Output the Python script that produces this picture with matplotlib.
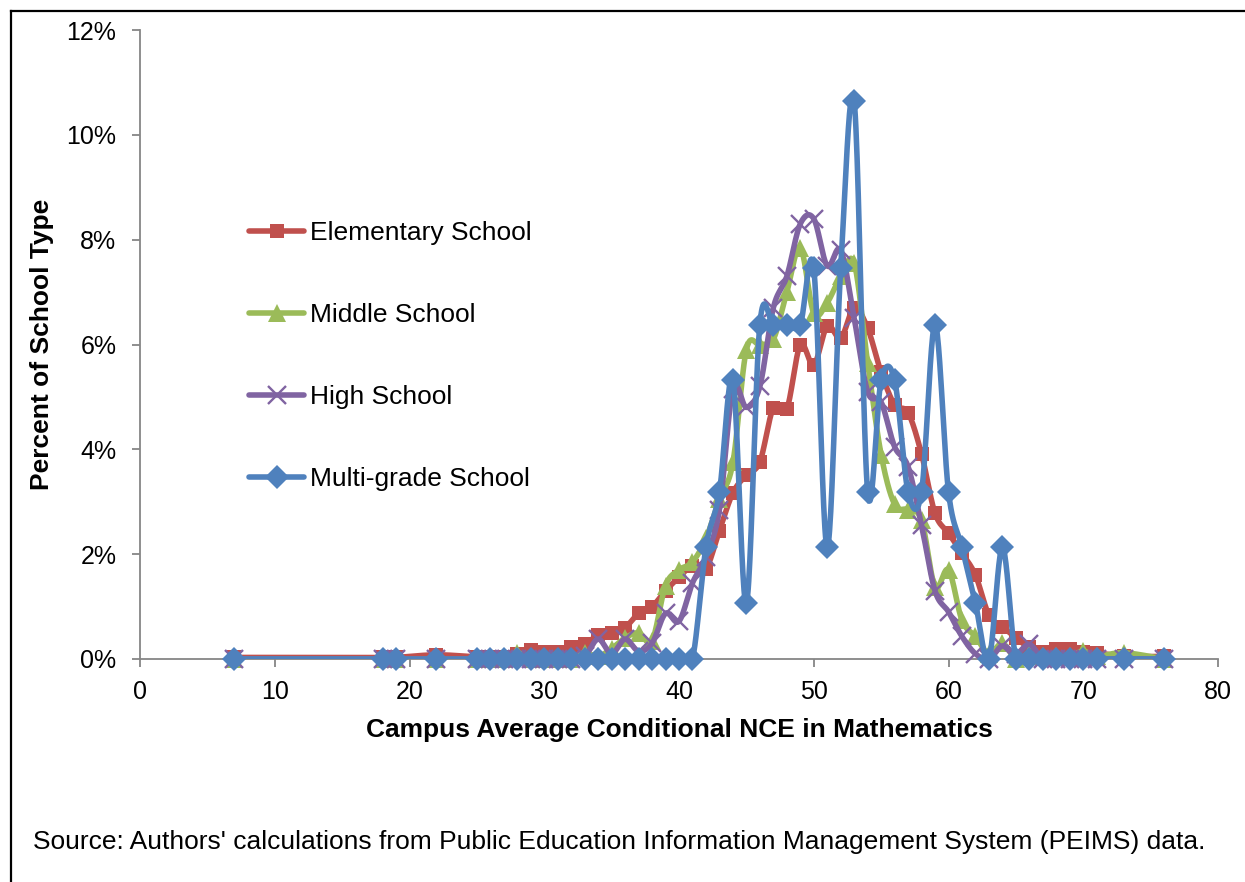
"""
Distribution of campus average conditional NCE (math) by school type.
Smoothed lines like Excel's "smoothed line" scatter.
"""
import numpy as np
import matplotlib
matplotlib.use("Agg")
import matplotlib.pyplot as plt
from matplotlib.lines import Line2D
from matplotlib.ticker import FuncFormatter, MultipleLocator

plt.rcParams["font.family"] = ["Liberation Sans", "DejaVu Sans"]

# data (percent of school type)
nce = [7, 18, 19, 22, 25, 26, 27, 28, 29, 30, 31, 32, 33, 34, 35, 36, 37, 38,
       39, 40, 41, 42, 43, 44, 45, 46, 47, 48, 49, 50, 51, 52, 53, 54, 55, 56,
       57, 58, 59, 60, 61, 62, 63, 64, 65, 66, 67, 68, 69, 70, 71, 73, 76]

elementary = [0.03, 0.03, 0.03, 0.08, 0.04, 0.04, 0.04, 0.10, 0.17, 0.13, 0.13,
              0.22, 0.29, 0.45, 0.50, 0.60, 0.87, 1.00, 1.30, 1.56, 1.78, 1.72,
              2.45, 3.17, 3.51, 3.76, 4.79, 4.77, 5.99, 5.61, 6.35, 6.12, 6.70,
              6.31, 5.47, 4.85, 4.70, 3.91, 2.78, 2.40, 2.02, 1.60, 0.84, 0.62,
              0.40, 0.22, 0.14, 0.20, 0.20, 0.13, 0.12, 0.05, 0.05]

middle = [0.0, 0.0, 0.0, 0.0, 0.0, 0.0, 0.0, 0.12, 0.0, 0.0, 0.0, 0.0, 0.12,
          0.05, 0.20, 0.40, 0.50, 0.35, 1.40, 1.70, 1.85, 2.30, 3.05, 3.75,
          5.90, 6.00, 6.10, 7.00, 7.85, 6.60, 6.80, 7.30, 7.55, 5.65, 3.90,
          2.95, 2.85, 2.65, 1.38, 1.70, 0.74, 0.43, 0.10, 0.30, 0.0, 0.10,
          0.05, 0.05, 0.05, 0.15, 0.05, 0.12, 0.0]

high = [0.0, 0.0, 0.0, 0.0, 0.0, 0.0, 0.0, 0.0, 0.0, 0.0, 0.0, 0.0, 0.05,
        0.38, 0.10, 0.38, 0.15, 0.30, 0.87, 0.72, 1.45, 1.95, 2.85, 5.15,
        4.80, 5.20, 6.70, 7.30, 8.30, 8.40, 7.50, 7.80, 6.50, 5.10, 4.90,
        4.05, 3.67, 2.55, 1.30, 0.90, 0.43, 0.10, 0.0, 0.25, 0.10, 0.28,
        0.0, 0.0, 0.0, 0.0, 0.0, 0.0, 0.0]

multigrade = [0.0, 0.0, 0.0, 0.0, 0.0, 0.0, 0.0, 0.0, 0.0, 0.0, 0.0, 0.0, 0.0,
              0.0, 0.0, 0.0, 0.0, 0.0, 0.0, 0.0, 0.0, 2.13, 3.19, 5.32, 1.06,
              6.38, 6.38, 6.38, 6.38, 7.45, 2.13, 7.45, 10.64, 3.19, 5.32, 5.32,
              3.19, 3.19, 6.38, 3.19, 2.13, 1.06, 0.0, 2.13, 0.0, 0.0, 0.0,
              0.0, 0.0, 0.0, 0.0, 0.0, 0.0]

labels = ["Elementary School", "Middle School", "High School", "Multi-grade School"]
series = [elementary, middle, high, multigrade]
colors = ["#C0504D", "#9BBB59", "#8064A2", "#4F81BD"]
markers = ["s", "^", "x", "D"]
msizes = [10, 13, 13, 12]


def smooth(x, y, n=24):
    # bezier through the points, control points at 1/6 of neighbour chord
    x = np.asarray(x, float)
    y = np.asarray(y, float)
    px = np.r_[x[0], x, x[-1]]
    py = np.r_[y[0], y, y[-1]]
    t = np.linspace(0, 1, n)[:, None]
    out = []
    for i in range(len(x) - 1):
        p0 = np.array([px[i], py[i]])
        p1 = np.array([px[i + 1], py[i + 1]])
        p2 = np.array([px[i + 2], py[i + 2]])
        p3 = np.array([px[i + 3], py[i + 3]])
        c1 = p1 + (p2 - p0) / 6
        c2 = p2 - (p3 - p1) / 6
        b = ((1 - t) ** 3) * p1 + 3 * ((1 - t) ** 2) * t * c1 \
            + 3 * (1 - t) * t ** 2 * c2 + t ** 3 * p2
        out.append(b if i == 0 else b[1:])
    b = np.vstack(out)
    return b[:, 0], b[:, 1]


fig = plt.figure(figsize=(12.45, 8.82), dpi=100)
ax = fig.add_axes([140 / 1245, 1 - 659 / 882, 1078 / 1245, 629 / 882])

LW = 4.0
handles = []
for k, (vals, c, m, ms, lab) in enumerate(zip(series, colors, markers, msizes, labels)):
    sx, sy = smooth(nce, vals)
    ax.plot(sx, sy, color=c, lw=LW, solid_capstyle="round",
            solid_joinstyle="round", zorder=2 + 2 * k)
    mew = 1.7 if m == "x" else 0
    ax.plot(nce, vals, ls="none", marker=m, ms=ms, color=c, mec=c, mew=mew,
            zorder=3 + 2 * k, clip_on=False)
    handles.append(Line2D([], [], color=c, lw=LW, marker=m, ms=ms, mec=c,
                          mew=mew, solid_capstyle="round"))

ax.set_xlim(0, 80)
ax.set_ylim(0, 12)
ax.xaxis.set_major_locator(MultipleLocator(10))
ax.yaxis.set_major_locator(MultipleLocator(2))
ax.yaxis.set_major_formatter(FuncFormatter(lambda v, p: f"{v:.0f}%"))

for s in ["top", "right"]:
    ax.spines[s].set_visible(False)
for s in ["left", "bottom"]:
    ax.spines[s].set_color("#868686")
    ax.spines[s].set_linewidth(1.3)
ax.tick_params(axis="both", direction="out", length=6, width=1.3,
               color="#868686", labelsize=18)
ax.tick_params(axis="y", pad=11)
ax.tick_params(axis="x", pad=9)

ax.set_xlabel("Campus Average Conditional NCE in Mathematics",
              fontsize=19, fontweight="bold", labelpad=10)
ax.set_ylabel("Percent of School Type", fontsize=19, fontweight="bold",
              labelpad=9)

ax.legend(handles, labels, loc="upper left", bbox_to_anchor=(0.101, 0.696),
          frameon=False, fontsize=19, handlelength=2.1, handletextpad=0.2,
          labelspacing=2.2, borderaxespad=0, borderpad=0)

fig.text(33 / 1245, 1 - 842 / 882,
         "Source: Authors' calculations from Public Education Information "
         "Management System (PEIMS) data.", fontsize=19, va="center")

# outer frame (only left and top edges fall inside the crop)
fig.add_artist(Line2D([11 / 1245, 11 / 1245], [0, 1 - 11 / 882],
                      transform=fig.transFigure, color="black", lw=1.6))
fig.add_artist(Line2D([11 / 1245, 1], [1 - 11 / 882, 1 - 11 / 882],
                      transform=fig.transFigure, color="black", lw=1.6))

fig.savefig("out.png", dpi=100)
